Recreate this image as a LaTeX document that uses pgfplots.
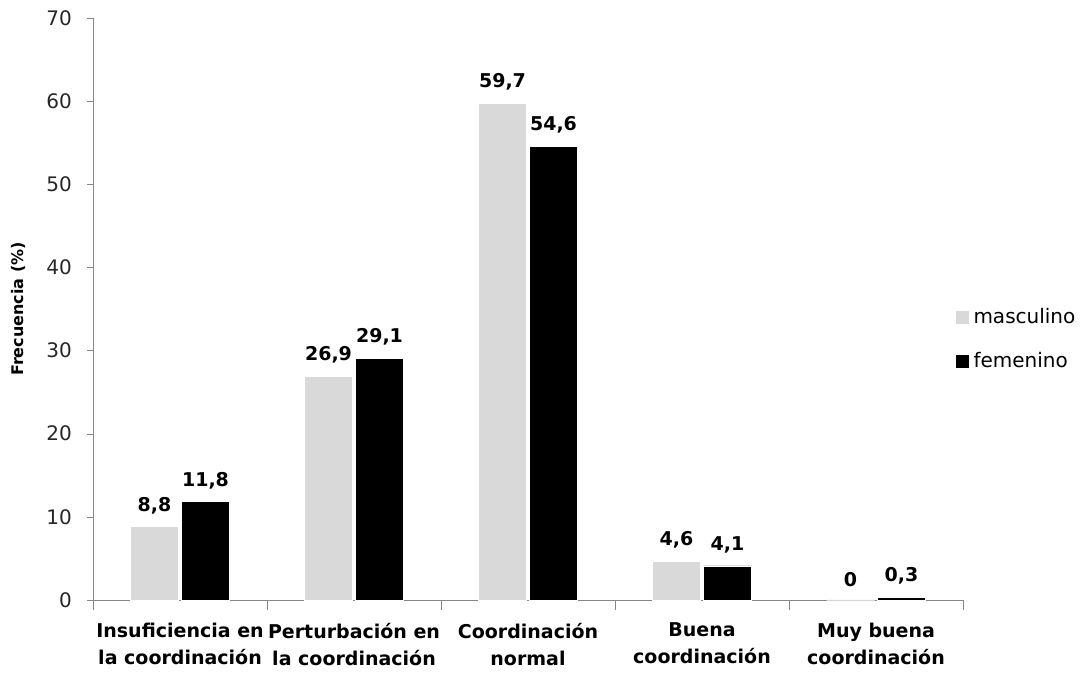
\documentclass[border=0pt]{standalone}
\usepackage{fontspec}
\setmainfont{DejaVu Sans}
\usepackage{pgfplots}
\pgfplotsset{compat=1.18}

\definecolor{masc}{RGB}{217,217,217}
\definecolor{axisgray}{RGB}{134,134,134}

\pgfplotstableread{
x masc fem
0 8.8 11.8
1 26.9 29.1
2 59.7 54.6
3 4.6 4.1
4 0 0.3
}\datatable

\begin{document}
\begin{tikzpicture}
  \begin{axis}[
      scale only axis,
      width=435pt, height=291pt,
      ybar, bar width=24pt,
      xmin=-0.5, xmax=4.5,
      ymin=0, ymax=70,
      ytick={0,10,...,70},
      xtick={0,1,2,3,4},
      xticklabels={Insuficiencia en\\la coordinación, Perturbación en\\la coordinación, Coordinación\\normal, Buena\\coordinación, Muy buena\\coordinación},
      xticklabel style={align=center, font=\bfseries\fontsize{9.5}{13.5}\selectfont, text=black, yshift=-5pt},
      major x tick style={draw=none},
      minor xtick={-0.5,0.5,...,4.5},
      minor x tick style={axisgray},
      minor tick length=5pt,
      tick align=outside,
      ytick style={axisgray},
      major tick length=3pt,
      axis x line*=bottom,
      axis y line*=left,
      axis line style={axisgray, -},
      yticklabel style={font=\fontsize{10}{12}\selectfont, text=black!85, xshift=-4pt},
      /pgf/number format/assume math mode=true,
      ylabel={\bfseries Frecuencia (\%)},
      ylabel style={font=\fontsize{8}{10}\selectfont, at={(rel axis cs:0,0.5)}, anchor=center, yshift=37.5pt},
      nodes near coords,
      nodes near coords style={font=\bfseries\fontsize{9.5}{12}\selectfont, text=black, yshift=3pt,
        /pgf/number format/.cd, fixed, precision=1, use comma, assume math mode=true},
      legend style={draw=none, fill=none, at={(0.99,0.448)}, anchor=west, font=\fontsize{10}{12}\selectfont,
        row sep=9pt, cells={anchor=west}, inner sep=0pt},
      legend image code/.code={\fill[#1] (0pt,-3.5pt) rectangle (7pt,3.5pt);},
      clip=false,
    ]
    \addplot[fill=masc, draw=white, bar shift=-12.75pt] table[x=x, y=masc] {\datatable};
    \addplot[fill=black, draw=white, bar shift=12.75pt] table[x=x, y=fem] {\datatable};
    \legend{masculino, femenino}
  \end{axis}
  \pgfresetboundingbox
  \useasboundingbox ([shift={(-46.5pt,-36.5pt)}]current axis.south west) rectangle ([shift={(64pt,9pt)}]current axis.north east);
\end{tikzpicture}
\end{document}
